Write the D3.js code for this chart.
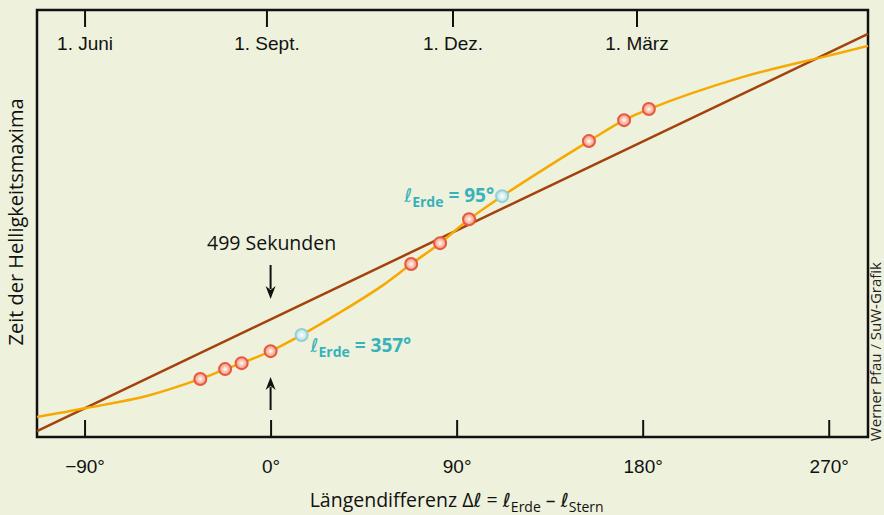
<!DOCTYPE html>
<html lang="de">
<head>
<meta charset="UTF-8">
<title>Helligkeitsmaxima</title>
<script src="https://cdn.jsdelivr.net/npm/d3@7"></script>
<style>
  body { margin: 0; background: #eef1dc; }
  svg { display: block; font-family: "Open Sans", "Noto Sans", sans-serif; }
</style>
</head>
<body>
<script>
// Längendifferenz in Grad, Zeit in relativen Einheiten (0 = unten, 100 = oben)
const lineDeg = [-113, 289];
const lineVal = [1.4, 94.4];

const curveDeg = [-113, -89, -60, -34, -22, -14, 0, 15, 33, 53, 68, 82, 96, 112, 154, 171, 183, 227, 269, 289];
const curveVal = [4.7, 6.8, 9.6, 13.6, 15.9, 17.3, 20.1, 23.9, 29.0, 35.1, 40.5, 45.4, 51.0, 56.4, 69.3, 74.2, 76.8, 84.1, 89.2, 91.6];

const redDeg = [-34, -22, -14, 0, 68, 82, 96, 154, 171, 183];
const redVal = [13.6, 15.9, 17.3, 20.1, 40.5, 45.4, 51.0, 69.3, 74.2, 76.8];

const blueDeg = [15, 112];
const blueVal = [23.9, 56.4];
const blueLabel = ["357°", "95°"];

const bottomTicks = [-90, 0, 90, 180, 270];
const topTickDeg = [-90, -2, 88, 177];
const topTickLabels = ["1. Juni", "1. Sept.", "1. Dez.", "1. März"];

const width = 884, height = 515;
const mLeft = 37, mRight = 868, mTop = 10, mBottom = 437;

const svg = d3.select('body').append('svg')
    .attr('width', width)
    .attr('height', height);

const defs = svg.append('defs');
function gradient(id, inner, outer) {
    const g = defs.append('radialGradient').attr('id', id);
    g.append('stop').attr('offset', '0%').attr('stop-color', '#ffffff');
    g.append('stop').attr('offset', '35%').attr('stop-color', inner);
    g.append('stop').attr('offset', '100%').attr('stop-color', outer);
}
gradient('redFill', '#fbd2c2', '#f39478');
gradient('blueFill', '#e3f3f3', '#b9e0e3');

const x = d3.scaleLinear().domain([-113, 289]).range([mLeft, mRight]);
const y = d3.scaleLinear().domain([0, 100]).range([mBottom, mTop]);

// Achsen
const xAxis = svg.append('g')
    .attr('transform', `translate(0,${mBottom})`)
    .call(d3.axisBottom(x).tickValues(bottomTicks).tickSizeInner(-17).tickSizeOuter(0).tickPadding(23)
        .tickFormat(d => (d < 0 ? '\u2212' + Math.abs(d) : d) + '°'));
xAxis.select('.domain').remove();
xAxis.selectAll('line').attr('stroke', '#111').attr('stroke-width', 2);
xAxis.selectAll('text').attr('font-size', 19).attr('fill', '#111').attr('font-family', null);

const topScale = d3.scaleOrdinal().domain(topTickLabels).range(topTickDeg.map(d => x(d)));
const topAxis = svg.append('g')
    .attr('transform', `translate(0,${mTop})`)
    .call(d3.axisTop(topScale).tickSizeInner(-17).tickSizeOuter(0));
topAxis.select('.domain').remove();
topAxis.selectAll('line').attr('stroke', '#111').attr('stroke-width', 2);
topAxis.selectAll('text').attr('font-size', 19).attr('fill', '#111').attr('font-family', null)
    .attr('y', 40).attr('dy', 0);

// Rahmen
svg.append('rect')
    .attr('x', mLeft).attr('y', mTop)
    .attr('width', mRight - mLeft).attr('height', mBottom - mTop)
    .attr('fill', 'none').attr('stroke', '#111').attr('stroke-width', 2.5);

// Gerade
const plot = svg.append('g');
plot.append('path')
    .datum(lineDeg.map((d, i) => [d, lineVal[i]]))
    .attr('fill', 'none').attr('stroke', '#a3420c').attr('stroke-width', 2.5)
    .attr('d', d3.line().x(d => x(d[0])).y(d => y(d[1])));

// Kurve
plot.append('path')
    .datum(curveDeg.map((d, i) => [d, curveVal[i]]))
    .attr('fill', 'none').attr('stroke', '#f6a900').attr('stroke-width', 2.5)
    .attr('d', d3.line().curve(d3.curveCatmullRom.alpha(0.5)).x(d => x(d[0])).y(d => y(d[1])));

// Messpunkte
plot.selectAll('.red').data(redDeg).enter().append('circle')
    .attr('class', 'red')
    .attr('cx', d => x(d))
    .attr('cy', (d, i) => y(redVal[i]))
    .attr('r', 6)
    .attr('fill', 'url(#redFill)')
    .attr('stroke', '#e8573f').attr('stroke-width', 2);

plot.selectAll('.blue').data(blueDeg).enter().append('circle')
    .attr('class', 'blue')
    .attr('cx', d => x(d))
    .attr('cy', (d, i) => y(blueVal[i]))
    .attr('r', 6)
    .attr('fill', 'url(#blueFill)')
    .attr('stroke', '#93d0d6').attr('stroke-width', 2);

// Beschriftung der blauen Punkte
function ellLabel(g, value) {
    const t = g.append('text').attr('fill', '#38b1bb').attr('font-weight', 'bold').attr('font-size', 19);
    t.append('tspan').attr('font-family', 'DejaVu Sans').attr('font-weight', 'normal').attr('font-style', 'italic').text('\u2113');
    t.append('tspan').attr('font-size', 14).attr('dy', 5).text('Erde');
    t.append('tspan').attr('dy', -5).text(' = ' + value);
    return t;
}
ellLabel(svg, blueLabel[0])
    .attr('x', x(blueDeg[0]) + 9).attr('y', y(blueVal[0]) + 17);
ellLabel(svg, blueLabel[1])
    .attr('text-anchor', 'end')
    .attr('x', x(blueDeg[1]) - 8).attr('y', y(blueVal[1]) + 6);

// 499 Sekunden mit Pfeilen
const x0 = x(0);
svg.append('text')
    .attr('x', x0 + 1).attr('y', 250)
    .attr('text-anchor', 'middle').attr('font-size', 19.5).attr('fill', '#111')
    .text('499 Sekunden');
function arrow(y1, y2) {
    const dir = y2 > y1 ? 1 : -1;
    svg.append('line').attr('x1', x0).attr('x2', x0).attr('y1', y1).attr('y2', y2 - dir * 10)
        .attr('stroke', '#111').attr('stroke-width', 2);
    svg.append('path')
        .attr('d', `M${x0 - 5},${y2 - dir * 13} L${x0},${y2} L${x0 + 5},${y2 - dir * 13} L${x0},${y2 - dir * 9} Z`)
        .attr('fill', '#111');
}
arrow(265, 299);
arrow(410, 377);

// Achsentitel
svg.append('text')
    .attr('transform', 'translate(23,222) rotate(-90)')
    .attr('text-anchor', 'middle').attr('font-size', 20).attr('fill', '#111')
    .text('Zeit der Helligkeitsmaxima');

const title = svg.append('text')
    .attr('x', x(90)).attr('y', 507)
    .attr('text-anchor', 'middle').attr('font-size', 19.5).attr('fill', '#111');
title.append('tspan').text('Längendifferenz \u0394');
title.append('tspan').attr('font-family', 'DejaVu Sans').attr('font-style', 'italic').text('\u2113');
title.append('tspan').text(' = ');
title.append('tspan').attr('font-family', 'DejaVu Sans').attr('font-style', 'italic').text('\u2113');
title.append('tspan').attr('font-size', 14).attr('dy', 5).text('Erde');
title.append('tspan').attr('dy', -5).text(' \u2013 ');
title.append('tspan').attr('font-family', 'DejaVu Sans').attr('font-style', 'italic').text('\u2113');
title.append('tspan').attr('font-size', 14).attr('dy', 5).text('Stern');

// Credit
svg.append('text')
    .attr('transform', 'translate(881,262) rotate(-90)')
    .attr('text-anchor', 'end').attr('font-size', 15).attr('fill', '#222')
    .text('Werner Pfau / SuW-Grafik');
</script>
</body>
</html>
